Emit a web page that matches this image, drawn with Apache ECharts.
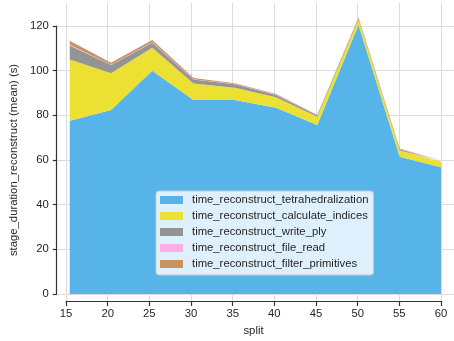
<!DOCTYPE html>
<html>
<head>
<meta charset="utf-8">
<script src="https://cdn.jsdelivr.net/npm/echarts@6/dist/echarts.min.js"></script>
<style>
  html, body { margin: 0; padding: 0; background: #ffffff; }
  #chart { width: 454px; height: 341px; }
</style>
</head>
<body>
<div id="chart"></div>
<script>
// Split sizes on the x axis
const splits = [15, 20, 25, 30, 35, 40, 45, 50, 55, 60];

// Mean duration of each reconstruct stage (seconds), stacked bottom to top
const tetrahedralization = [77.6, 82.4, 100.0, 86.9, 86.9, 83.4, 75.7, 120.4, 61.5, 56.7];
const calculateIndices   = [27.4, 16.4, 10.3, 7.4, 5.5, 4.7, 3.7, 2.5, 2.7, 2.5];
const writePly           = [6.3, 3.7, 2.2, 1.8, 1.5, 1.0, 0.6, 0.6, 0.6, 0.4];
const fileRead           = [0.3, 0.2, 0.2, 0.1, 0.1, 0.1, 0.1, 0.1, 0.1, 0.05];
const filterPrimitives   = [1.8, 0.9, 1.0, 0.5, 0.4, 0.4, 0.2, 0.3, 0.2, 0.2];

const layers = [
  { name: 'time_reconstruct_tetrahedralization', values: tetrahedralization, color: '#56b4e9' },
  { name: 'time_reconstruct_calculate_indices', values: calculateIndices, color: '#ece133' },
  { name: 'time_reconstruct_write_ply', values: writePly, color: '#949494' },
  { name: 'time_reconstruct_file_read', values: fileRead, color: '#fbafe4' },
  { name: 'time_reconstruct_filter_primitives', values: filterPrimitives, color: '#ca9161' }
];

const textColor = '#262626';
const gridColor = '#dcdcdc';
const font = 'Liberation Sans, Arial, sans-serif';

const chart = echarts.init(document.getElementById('chart'), null, { renderer: 'canvas' });

chart.setOption({
  animation: false,
  backgroundColor: '#ffffff',
  grid: [
    // data area + trimmed y spine
    { left: 66, right: 13, top: 26, bottom: 47 },
    // horizontal grid lines
    { left: 54, right: 0, top: 26, bottom: 47 },
    // vertical grid lines + x spine
    { left: 66, right: 13, top: 3, bottom: 35 }
  ],
  xAxis: [
    { gridIndex: 0, type: 'category', boundaryGap: false, data: splits.map(String), show: false },
    { gridIndex: 1, type: 'value', min: 15, max: 60, interval: 5, show: false },
    {
      gridIndex: 2, type: 'value', min: 15, max: 60, interval: 5,
      name: 'split', nameLocation: 'middle', nameGap: 24,
      nameTextStyle: { color: textColor, fontSize: 11.3, fontFamily: font },
      axisLine: { show: true, onZero: false, lineStyle: { color: '#333333', width: 1.2 } },
      axisTick: { show: true, length: 5, lineStyle: { color: '#333333', width: 1.2 } },
      axisLabel: { color: textColor, fontSize: 11.3, fontFamily: font, margin: 7 },
      splitLine: { show: true, lineStyle: { color: gridColor, width: 1 } }
    }
  ],
  yAxis: [
    {
      gridIndex: 0, type: 'value', min: 0, max: 120, interval: 20, offset: 13,
      name: 'stage_duration_reconstruct (mean) (s)', nameLocation: 'middle', nameGap: 30,
      nameTextStyle: { color: textColor, fontSize: 11.3, fontFamily: font },
      axisLine: { show: true, lineStyle: { color: '#333333', width: 1.2 } },
      axisTick: { show: true, length: 4, lineStyle: { color: '#333333', width: 1.2 } },
      axisLabel: { color: textColor, fontSize: 11.3, fontFamily: font, margin: 8 },
      splitLine: { show: false }
    },
    {
      gridIndex: 1, type: 'value', min: 0, max: 120, interval: 20,
      axisLine: { show: false }, axisTick: { show: false }, axisLabel: { show: false },
      splitLine: { show: true, lineStyle: { color: gridColor, width: 1 } }
    },
    { gridIndex: 2, type: 'value', min: 0, max: 1, show: false }
  ],
  legend: {
    orient: 'vertical',
    left: 156,
    top: 191,
    padding: [3, 5, 5, 4],
    itemWidth: 23,
    itemHeight: 8,
    itemGap: 4,
    icon: 'rect',
    backgroundColor: 'rgba(255,255,255,0.8)',
    borderColor: '#cccccc',
    borderWidth: 1,
    borderRadius: 3,
    textStyle: { color: textColor, fontSize: 11.3, fontFamily: font, lineHeight: 12, padding: [0, 0, 0, 4] },
    data: layers.map(l => l.name)
  },
  series: layers.map(l => ({
    name: l.name,
    type: 'line',
    xAxisIndex: 0,
    yAxisIndex: 0,
    stack: 'stage',
    clip: false,
    symbol: 'none',
    showSymbol: false,
    color: l.color,
    lineStyle: { width: 0, color: l.color },
    areaStyle: { color: l.color, opacity: 1 },
    data: l.values
  }))
});
</script>
</body>
</html>
